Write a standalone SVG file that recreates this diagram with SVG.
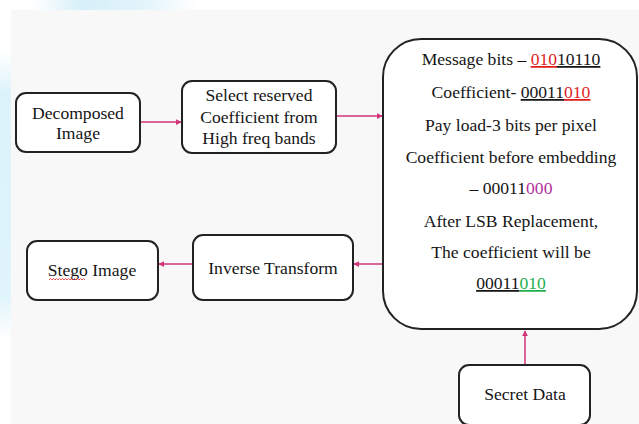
<svg xmlns="http://www.w3.org/2000/svg" width="639" height="424" viewBox="0 0 639 424">
  <defs>
    <marker id="arrow" viewBox="0 0 8 8" refX="7" refY="4" markerWidth="6" markerHeight="6" orient="auto" markerUnits="userSpaceOnUse">
      <path d="M0,0 L8,4 L0,8 z" fill="#d0357a"/>
    </marker>
    <linearGradient id="topGlow" x1="0" y1="0" x2="1" y2="0">
      <stop offset="0" stop-color="#dff3fb" stop-opacity="0"/>
      <stop offset="0.3" stop-color="#d6eff9"/>
      <stop offset="0.7" stop-color="#e4f5fb"/>
      <stop offset="1" stop-color="#eef8fc" stop-opacity="0"/>
    </linearGradient>
    <linearGradient id="leftGlow" x1="0" y1="0" x2="0" y2="1">
      <stop offset="0" stop-color="#e2f5fb" stop-opacity="0"/>
      <stop offset="0.15" stop-color="#dcf2fa"/>
      <stop offset="0.85" stop-color="#dff4fb"/>
      <stop offset="1" stop-color="#e6f6fb" stop-opacity="0"/>
    </linearGradient>
  </defs>
  <style>
    .box { fill: #ffffff; stroke: #222222; stroke-width: 2; }
    .lbl { font-family: "Liberation Serif", "Times New Roman", serif; font-size: 17.6px; fill: #151515; text-anchor: middle; }
    .conn { stroke: #d0357a; stroke-width: 1.5; fill: none; marker-end: url(#arrow); }
    .red { fill: #e01e1e; }
    .mag { fill: #b3309c; }
    .grn { fill: #22b04f; }
    .ul { text-decoration: underline; }
  </style>

  <!-- backdrop -->
  <rect x="0" y="0" width="639" height="424" fill="#ffffff"/>
  <rect x="11" y="10" width="628" height="414" fill="#f8f8f8"/>
  <rect x="30" y="0" width="170" height="10" fill="url(#topGlow)"/>
  <rect x="0" y="50" width="11" height="290" fill="url(#leftGlow)"/>

  <!-- connectors -->
  <g id="connectors">
    <line class="conn" x1="141" y1="122" x2="181" y2="122"/>
    <line class="conn" x1="337" y1="116" x2="382" y2="116"/>
    <line class="conn" x1="382" y1="264" x2="354" y2="264"/>
    <line class="conn" x1="192" y1="264" x2="159" y2="264"/>
    <line class="conn" x1="525" y1="364" x2="525" y2="331"/>
  </g>

  <g id="decomposed">
    <rect class="box" x="16" y="93" width="124" height="59" rx="10"/>
    <text class="lbl" x="78" y="119">Decomposed</text>
    <text class="lbl" x="78" y="139">Image</text>
  </g>

  <g id="select">
    <rect class="box" x="182" y="81" width="154" height="72" rx="10"/>
    <text class="lbl" x="259" y="101">Select reserved</text>
    <text class="lbl" x="259" y="123">Coefficient from</text>
    <text class="lbl" x="259" y="144">High freq bands</text>
  </g>

  <g id="embedding">
    <rect class="box" x="383" y="39" width="254" height="290" rx="38"/>
    <text class="lbl" x="511" y="65">Message bits – <tspan class="ul red">010</tspan><tspan class="ul" fill="#151515">10110</tspan></text>
    <text class="lbl" x="511" y="98">Coefficient- <tspan class="ul" fill="#151515">00011</tspan><tspan class="ul red">010</tspan></text>
    <text class="lbl" x="511" y="131">Pay load-3 bits per pixel</text>
    <text class="lbl" x="511" y="163">Coefficient before embedding</text>
    <text class="lbl" x="511" y="194">– 00011<tspan class="mag">000</tspan></text>
    <text class="lbl" x="511" y="227">After LSB Replacement,</text>
    <text class="lbl" x="511" y="258">The coefficient will be</text>
    <text class="lbl" x="511" y="289"><tspan class="ul" fill="#151515">00011</tspan><tspan class="ul grn">010</tspan></text>
  </g>

  <g id="inverse">
    <rect class="box" x="193" y="235" width="160" height="65" rx="10"/>
    <text class="lbl" x="273" y="274">Inverse Transform</text>
  </g>

  <g id="stego">
    <rect class="box" x="27" y="241" width="131" height="59" rx="10"/>
    <text class="lbl" x="92" y="276">Stego Image</text>
    <path d="M49,280 l1.5,-1.5 l1.5,1.5 l1.5,-1.5 l1.5,1.5 l1.5,-1.5 l1.5,1.5 l1.5,-1.5 l1.5,1.5 l1.5,-1.5 l1.5,1.5 l1.5,-1.5 l1.5,1.5 l1.5,-1.5 l1.5,1.5 l1.5,-1.5 l1.5,1.5 l1.5,-1.5 l1.5,1.5 l1.5,-1.5 l1.5,1.5 l1.5,-1.5 l1.5,1.5 l1.5,-1.5 l1.5,1.5" fill="none" stroke="#e03030" stroke-width="0.8"/>
  </g>

  <g id="secret">
    <rect class="box" x="459" y="365" width="131" height="60" rx="10"/>
    <text class="lbl" x="525" y="400">Secret Data</text>
  </g>
</svg>
